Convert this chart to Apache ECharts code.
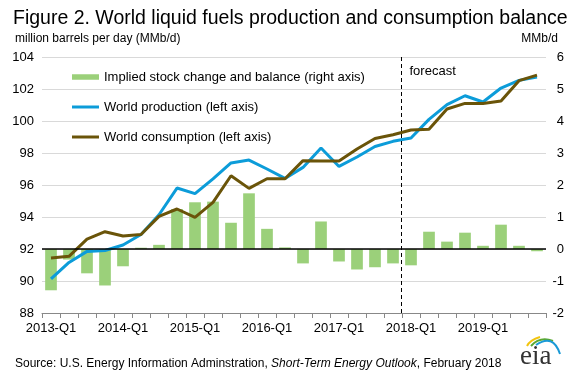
<!DOCTYPE html>
<html>
<head>
<meta charset="utf-8">
<script src="https://cdn.jsdelivr.net/npm/echarts@6/dist/echarts.min.js"></script>
<style>
html,body{margin:0;padding:0;background:#fff;}
#chart{width:576px;height:384px;}
</style>
</head>
<body>
<div id="chart"></div>
<script>
var categories = ['2013-Q1','2013-Q2','2013-Q3','2013-Q4','2014-Q1','2014-Q2','2014-Q3','2014-Q4',
  '2015-Q1','2015-Q2','2015-Q3','2015-Q4','2016-Q1','2016-Q2','2016-Q3','2016-Q4',
  '2017-Q1','2017-Q2','2017-Q3','2017-Q4','2018-Q1','2018-Q2','2018-Q3','2018-Q4',
  '2019-Q1','2019-Q2','2019-Q3','2019-Q4'];
var production = [90.13, 91.16, 91.85, 91.91, 92.25, 92.91, 94.14, 95.81,
  95.46, 96.38, 97.38, 97.56, 97.0, 96.41, 97.1, 98.31,
  97.16, 97.75, 98.41, 98.73, 98.94, 100.1, 101.02, 101.58,
  101.19, 102.06, 102.54, 102.75];
var consumption = [91.44, 91.54, 92.62, 93.08, 92.81, 92.91, 94.04, 94.5,
  93.98, 94.91, 96.58, 95.79, 96.39, 96.39, 97.52, 97.5,
  97.5, 98.25, 98.91, 99.14, 99.44, 99.48, 100.75, 101.1,
  101.1, 101.25, 102.52, 102.87];
var balance = [-1.29, -0.33, -0.76, -1.14, -0.54, 0.04, 0.13, 1.25,
  1.46, 1.48, 0.82, 1.74, 0.63, 0.05, -0.45, 0.86,
  -0.39, -0.64, -0.57, -0.45, -0.51, 0.54, 0.23, 0.51,
  0.10, 0.76, 0.10, -0.07];
var forecastStart = '2018-Q1';
var lastHistory = '2017-Q4';

var FONT = '"Liberation Sans", Arial, sans-serif';
var chart = echarts.init(document.getElementById('chart'), null, {renderer: 'canvas'});
var option = {
  animation: false,
  backgroundColor: '#ffffff',
  textStyle: {fontFamily: FONT, color: '#000'},
  title: [
    {text: 'Figure 2. World liquid fuels production and consumption balance', left: 8, top: 4,
     textStyle: {fontFamily: FONT, fontSize: 19.5, fontWeight: 'normal', color: '#000'}},
    {text: 'million barrels per day (MMb/d)', left: 10, top: 28,
     textStyle: {fontFamily: FONT, fontSize: 12, fontWeight: 'normal', color: '#000'}},
    {text: 'MMb/d', right: 13, top: 28,
     textStyle: {fontFamily: FONT, fontSize: 12, fontWeight: 'normal', color: '#000'}},
    {text: '{n|Source: U.S. Energy Information Adminstration, }{i|Short-Term Energy Outlook}{n|, February 2018}',
     left: 10, top: 353,
     textStyle: {fontFamily: FONT, fontSize: 12, fontWeight: 'normal', color: '#000',
       rich: {n: {fontFamily: FONT, fontSize: 12, color: '#000'},
              i: {fontFamily: FONT, fontSize: 12, fontStyle: 'italic', color: '#000'}}}}
  ],
  legend: {
    orient: 'vertical', left: 67, top: 64,
    itemWidth: 27, itemHeight: 6, itemGap: 14, symbolKeepAspect: true,
    textStyle: {fontFamily: FONT, fontSize: 13, color: '#000', lineHeight: 16},
    data: [
      {name: 'Implied stock change and balance (right axis)', icon: 'path://M0,0 L27,0 L27,5.5 L0,5.5 Z'},
      {name: 'World production (left axis)', icon: 'path://M0,0 L27,0 L27,3 L0,3 Z'},
      {name: 'World consumption (left axis)', icon: 'path://M0,0 L27,0 L27,3 L0,3 Z'}
    ]
  },
  grid: {left: 42, right: 30, top: 57, bottom: 71, containLabel: false},
  xAxis: {
    type: 'category', data: categories, boundaryGap: true,
    axisLine: {onZero: false, lineStyle: {color: '#888', width: 1}},
    axisTick: {show: true, interval: 0, length: 5, lineStyle: {color: '#888'}},
    axisLabel: {interval: 3, fontFamily: FONT, fontSize: 13, color: '#000', margin: 9},
    splitLine: {show: false}
  },
  yAxis: [
    {type: 'value', min: 88, max: 104, interval: 2, position: 'left',
     axisLine: {show: false}, axisTick: {show: false},
     axisLabel: {fontFamily: FONT, fontSize: 13, color: '#000', margin: 8},
     splitLine: {show: true, lineStyle: {color: '#d9d9d9', width: 1}}},
    {type: 'value', min: -2, max: 6, interval: 1, position: 'right',
     axisLine: {show: false}, axisTick: {show: false},
     axisLabel: {fontFamily: FONT, fontSize: 13, color: '#000', margin: 18, align: 'right'},
     splitLine: {show: false}}
  ],
  series: [
    {name: 'Implied stock change and balance (right axis)', type: 'bar', yAxisIndex: 1,
     data: balance, barWidth: '65%', itemStyle: {color: '#9bd07a'},
     markLine: {silent: true, symbol: 'none', label: {show: false},
       lineStyle: {color: '#000', width: 1.5, type: 'solid'},
       data: [{yAxis: 0}]}},
    {name: 'World production (left axis)', type: 'line', yAxisIndex: 0,
     data: production, symbol: 'none', lineStyle: {color: '#0c9cd9', width: 3},
     itemStyle: {color: '#0c9cd9'}},
    {name: 'World consumption (left axis)', type: 'line', yAxisIndex: 0,
     data: consumption, symbol: 'none', lineStyle: {color: '#6a5409', width: 3},
     itemStyle: {color: '#6a5409'}}
  ]
};
chart.setOption(option);

// forecast divider, positioned from the axis scale
var x1 = chart.convertToPixel({xAxisIndex: 0}, lastHistory);
var x2 = chart.convertToPixel({xAxisIndex: 0}, forecastStart);
var xd = Math.round((x1 + x2) / 2) - 0.5;
var yTop = chart.convertToPixel({yAxisIndex: 0}, 104);
var yBot = chart.convertToPixel({yAxisIndex: 0}, 88);
chart.setOption({
  graphic: [
    {type: 'line', shape: {x1: xd, y1: yTop, x2: xd, y2: yBot}, z: 50,
     style: {stroke: '#000', lineWidth: 1, lineDash: [4, 3]}},
    {type: 'text', x: xd + 8, y: yTop + 8, z: 50,
     style: {text: 'forecast', fontFamily: FONT, fontSize: 13, fill: '#000'}},
    // eia logo
    {type: 'bezierCurve', z: 50, shape: {x1: 527, y1: 346, cpx1: 530, cpy1: 340, x2: 540, y2: 337},
     style: {stroke: '#f2c40f', lineWidth: 2, fill: null}},
    {type: 'bezierCurve', z: 50, shape: {x1: 531, y1: 346, cpx1: 540, cpy1: 336, x2: 553, y2: 341},
     style: {stroke: '#5aa832', lineWidth: 2, fill: null}},
    {type: 'bezierCurve', z: 50, shape: {x1: 536, y1: 345, cpx1: 553, cpy1: 333, x2: 560, y2: 354},
     style: {stroke: '#1a9ad6', lineWidth: 2, fill: null}},
    {type: 'text', x: 520, y: 343, z: 50,
     style: {text: 'eia', fontFamily: '"Liberation Serif", "DejaVu Serif", serif', fontSize: 27, fill: '#333'}}
  ]
});
</script>
</body>
</html>
